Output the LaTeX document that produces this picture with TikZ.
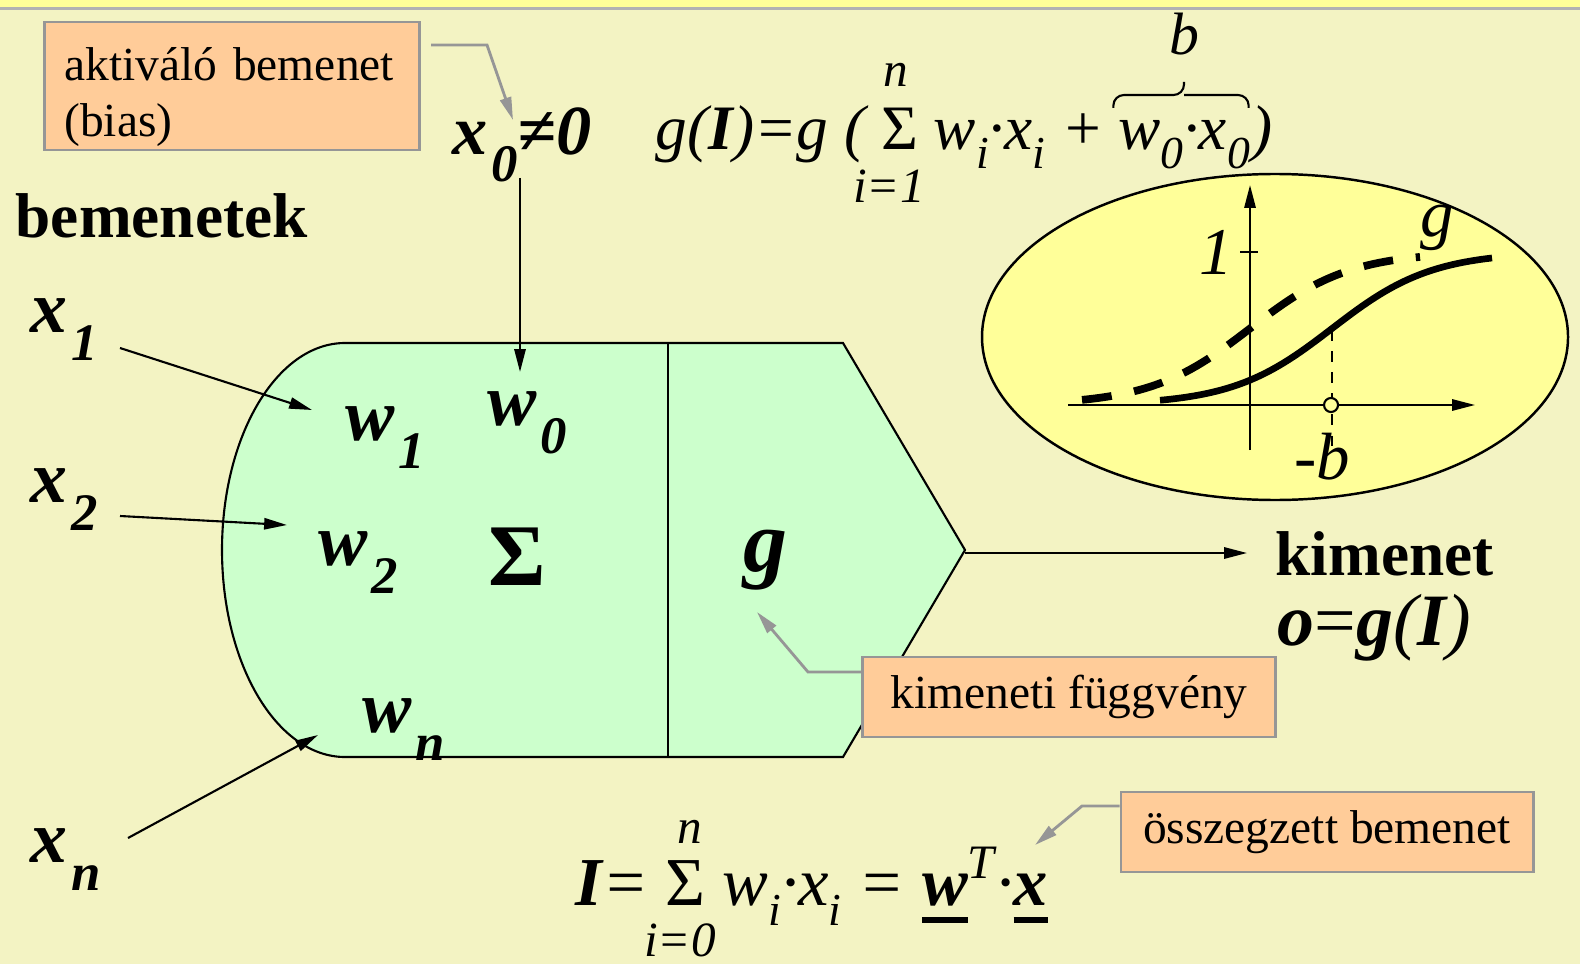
\documentclass[tikz,border=0pt]{standalone}
\usepackage{fontspec}
\setmainfont{Liberation Serif}
\usepackage{tikz}
\usetikzlibrary{arrows.meta,positioning,calc}

\definecolor{pagebg}{RGB}{243,243,195}
\definecolor{bandyellow}{RGB}{255,255,153}
\definecolor{bandgray}{RGB}{178,178,178}
\definecolor{neurongreen}{RGB}{204,255,204}
\definecolor{notefill}{RGB}{255,204,153}
\definecolor{notegray}{RGB}{150,150,150}
\definecolor{plotyellow}{RGB}{255,255,153}

\newcommand{\lsub}[2]{#1\kern1pt\raisebox{-0.38em}{\fontsize{15}{15}\selectfont #2}}
\newcommand{\fsub}[1]{\raisebox{-0.3em}{\fontsize{13}{13}\selectfont #1}}
\newcommand{\ulbold}[1]{\setbox0=\hbox{\bfseries\itshape #1}\rlap{\rule[-5pt]{\wd0}{1.5pt}}\box0}

\begin{document}
\begin{tikzpicture}[x=0.01cm, y=-0.01cm, >={Triangle[length=6.5pt,width=3.2pt]},
  note/.style={draw=notegray, fill=notefill, line width=0.8pt, inner sep=0pt, font=\fontsize{13.5}{16.2}\selectfont},
  callout/.style={draw=notegray, line width=0.8pt, ->},
  wire/.style={->, line width=0.6pt},
  bigword/.style={inner sep=0pt, font=\fontsize{18}{21}\selectfont\bfseries},
  var/.style={inner sep=0pt, font=\fontsize{21}{24}\selectfont\bfseries\itshape},
  formula/.style={inner sep=0pt, font=\fontsize{18}{22}\selectfont\itshape},
  limit/.style={inner sep=0pt, font=\fontsize{14}{16}\selectfont\itshape}]
% page
\fill[pagebg] (0,0) rectangle (1580,964);
\fill[bandyellow] (0,0) rectangle (1580,7);
\fill[bandgray] (0,7) rectangle (1580,10);
\useasboundingbox (0,0) rectangle (1580,964);

% neuron body
\draw[fill=neurongreen, line width=0.6pt] (345,343) -- (843,343) -- (965,550) -- (843,757) -- (345,757)
  arc[start angle=90, end angle=270, x radius=123, y radius=207] -- cycle;
\draw[line width=0.6pt] (668,343) -- (668,757);
\coordinate (tip) at (965,553);

% notes
\node[note, minimum width=3.75cm, minimum height=1.28cm, text width=3.35cm, align=left,
  text height=9.5pt, text depth=12.9pt] (bias) at (232,86) {aktiváló bemenet\\(bias)};
\node[note, minimum width=4.13cm, minimum height=0.8cm] (outfn) at (1069,697) {kimeneti függvény};
\node[note, minimum width=4.12cm, minimum height=0.8cm] (sumnote) at (1327,832) {összegzett bemenet};

% inputs
\node[bigword, anchor=base west] (inputs) at (15,238) {bemenetek};
\node[var, anchor=base west] (x1) at (30,332) {\lsub{x}{1}};
\node[var, anchor=base west] (x2) at (30,502) {\lsub{x}{2}};
\node[var, anchor=base west] (xn) at (30,862) {\lsub{x}{n}};
\node[var, anchor=base, font=\fontsize{20}{24}\selectfont\bfseries\itshape] (x0) at (522,155) {\lsub{x}{0}≠0};

% weights
\node[var, anchor=base west] (w0) at (487,425) {\lsub{w}{0}};
\node[var, anchor=base west] (w1) at (345,440) {\lsub{w}{1}};
\node[var, anchor=base west] (w2) at (318,565) {\lsub{w}{2}};
\node[var, anchor=base west] (wn) at (362,732) {\lsub{w}{n}};
\node[inner sep=0pt, font=\fontsize{25}{28}\selectfont\bfseries] (sigma) at (517,557) {Σ};
\node[inner sep=0pt, font=\fontsize{25}{28}\selectfont\bfseries\itshape] (gfun) at (765,560) {g};

% output
\node[bigword, anchor=base west] (out) at (1275,575) {kimenet};
\node[anchor=base west, inner sep=0pt, font=\fontsize{21}{24}\selectfont\itshape] (outeq) at (1277,645) {\textbf{o}\upshape=\itshape\textbf{g}(\textbf{I})};

% input wires
\coordinate (x1s) at (120,348);  \coordinate (x1e) at (312,410);
\coordinate (x2s) at (120,516);  \coordinate (x2e) at (287,525);
\coordinate (xns) at (128,838);  \coordinate (xne) at (318,735);
\coordinate (x0s) at (520,178);  \coordinate (x0e) at (520,372);
\draw[wire] (x1s) -- (x1e);
\draw[wire] (x2s) -- (x2e);
\draw[wire] (xns) -- (xne);
\draw[wire] (x0s) -- (x0e);
\draw[wire] (tip) -- ($(out.west |- tip)+(-28,0)$);

% callouts
\draw[callout] ($(bias.east)+(10,-41)$) -- (487,45) -- (513,120);
\draw[callout] (outfn.west |- 0,672) -- (808,672) -- (757,612);
\draw[callout] (sumnote.west |- 0,806) -- (1082,806) -- (1035,845);

% top formula
\node[formula, anchor=base west] (gform) at (655,150) {g(\textbf{I})=g ( \upshape Σ \itshape w\fsub{i}·x\fsub{i} +\kern0.2em};
\node[formula, anchor=base west] (wx0) at (gform.base east) {w\fsub{0}·x\fsub{0}};
\node[formula, anchor=base west] (gclose) at (wx0.base east) {)};
\node[limit] (gtop) at (896,75) {n};
\node[limit] (gbot) at (889,186) {i=1};
\draw[line width=0.6pt, rounded corners=3pt] ($(wx0.west |- 0,108)+(-4,0)$) |- (wx0.north |- 0,95) -- (wx0.north |- 0,82)
  (wx0.north |- 0,95) -| ($(wx0.east |- 0,108)+(-2,0)$);
\node[inner sep=0pt, font=\fontsize{17}{20}\selectfont\itshape, anchor=base] (bval) at (wx0.north |- 0,55) {b};

% bottom formula
\node[formula, anchor=base west, font=\fontsize{19.5}{22}\selectfont\itshape] (iform) at (575,905) {\textbf{I}= \upshape Σ \itshape w\fsub{i}·x\fsub{i} = \ulbold{w}\textsuperscript{T}·\ulbold{x}};
\node[limit] (itop) at (690,832) {n};
\node[limit] (ibot) at (680,940) {i=0};

% activation plot
\draw[fill=plotyellow, line width=0.7pt] (1275,337) ellipse [x radius=293, y radius=163];
\draw[line width=0.6pt, ->] (1250,450) -- (1250,185);
\draw[line width=0.6pt, ->] (1068,405) -- (1475,405);
\draw[line width=0.6pt] (1240,252) -- (1258,252);
\node[inner sep=0pt, font=\fontsize{19}{22}\selectfont\itshape] (one) at (1216,252) {1};
\draw[line width=2.2pt, dash pattern=on 8.5pt off 6.5pt] plot[domain=1082:1420, samples=60] (\x, {405-153/(1+exp(-(\x-1250)/50))});
\draw[line width=1.9pt] plot[domain=1160:1492, samples=60] (\x, {405-153/(1+exp(-(\x-1332)/50))});
\draw[line width=0.5pt, dashed] (1332,330) -- (1332,450);
\draw[line width=0.6pt, fill=plotyellow] (1331,405) circle [radius=7];
\node[inner sep=0pt, font=\fontsize{19}{22}\selectfont\itshape] (negb) at (1322,457) {-b};
\node[inner sep=0pt, font=\fontsize{19}{22}\selectfont\itshape] (glbl) at (1437,228) {g};
\end{tikzpicture}
\end{document}
